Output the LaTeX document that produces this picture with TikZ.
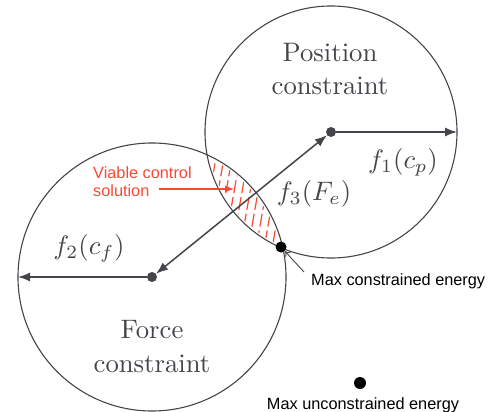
\documentclass[tikz,border=0pt]{standalone}
\usepackage{fontspec}
\newfontfamily\arialfont{Liberation Sans}
\usetikzlibrary{arrows.meta,calc}
\definecolor{lgray}{RGB}{68,68,74}
\definecolor{vred}{RGB}{250,72,52}
\newcommand{\bigscaled}[1]{\scalebox{2.67}{#1}}
\tikzset{
  ring/.style={draw=lgray, line width=1.1pt, circle, inner sep=0pt},
  dotnode/.style={fill=lgray, circle, inner sep=0pt, minimum size=10pt},
  bdot/.style={fill=black, circle, inner sep=0pt, minimum size=11pt},
  arr/.style={draw=lgray, line width=1.5pt},
  big/.style={font=\fontsize{10}{12}\selectfont, text=lgray, anchor=base, inner sep=0pt},
  lab/.style={font=\arialfont\fontsize{16.3}{18}\selectfont, anchor=base west, inner sep=0pt},
  hatch/.style={draw=vred, line width=1.2pt, dash pattern=on 13pt off 4pt},
}
\begin{document}
\begin{tikzpicture}[x=1pt,y=-1pt]
\useasboundingbox (0,0) rectangle (490,412);
% circles
\node[ring, minimum size=252pt] (P) at (331,132) {};
\node[ring, minimum size=268pt] (F) at (152,277) {};
% hatched lens
\begin{scope}
  \clip (331,132) circle[radius=124pt];
  \clip (152,277) circle[radius=132pt];
  \foreach \i in {0,...,14} {
    \draw[hatch] ($(190,260)+(\i*8,0)$) -- ++(80:130pt);
  }
\end{scope}
% centres and arrows
\node[dotnode] (pc) at (331,132) {};
\node[dotnode] (fc) at (152,277) {};
\coordinate (pe) at (457,132);
\coordinate (fe) at (18,277);
\draw[arr,-{Latex[length=12pt,width=9pt]}] (pc) -- (pe);
\draw[arr,-{Latex[length=12pt,width=9pt]}] (fc) -- (fe);
\draw[arr,{Latex[length=12pt,width=9pt]}-{Latex[length=12pt,width=9pt]}] (fc) -- (pc);
% texts
\node[big] (t1) at (330,62) {\bigscaled{Position}};
\node[big] (t2) at (330,95) {\bigscaled{constraint}};
\node[big] (t3) at (152,338) {\bigscaled{Force}};
\node[big] (t4) at (152,372) {\bigscaled{constraint}};
\node[big] (m1) at (403,168) {\bigscaled{$f_1(c_p)$}};
\node[big] (m2) at (89,254) {\bigscaled{$f_2(c_f)$}};
\node[big] (m3) at (314,200) {\bigscaled{$f_3(F_e)$}};
% viable control
\node[lab, text=vred] (v1) at (93,178) {Viable control};
\node[lab, text=vred] (v2) at (93,196) {solution};
\coordinate (vs) at (159,189);
\coordinate (ve) at (234,189);
\draw[vred, line width=1.1pt, -{Latex[length=9pt,width=7pt]}] (vs) -- (ve);
% max constrained
\node[bdot] (mc) at (281,247) {};
\node[lab] (mcl) at (311,285) {Max constrained energy};
\coordinate (ma) at (304,272);
\draw[lgray, line width=0.9pt, -{To[length=5pt,width=7pt]}] (ma) -- (mc);
% max unconstrained
\node[bdot, minimum size=12pt] (mu) at (360,383) {};
\node[lab, anchor=base] (mul) at (363,409) {Max unconstrained energy};
\end{tikzpicture}
\end{document}
